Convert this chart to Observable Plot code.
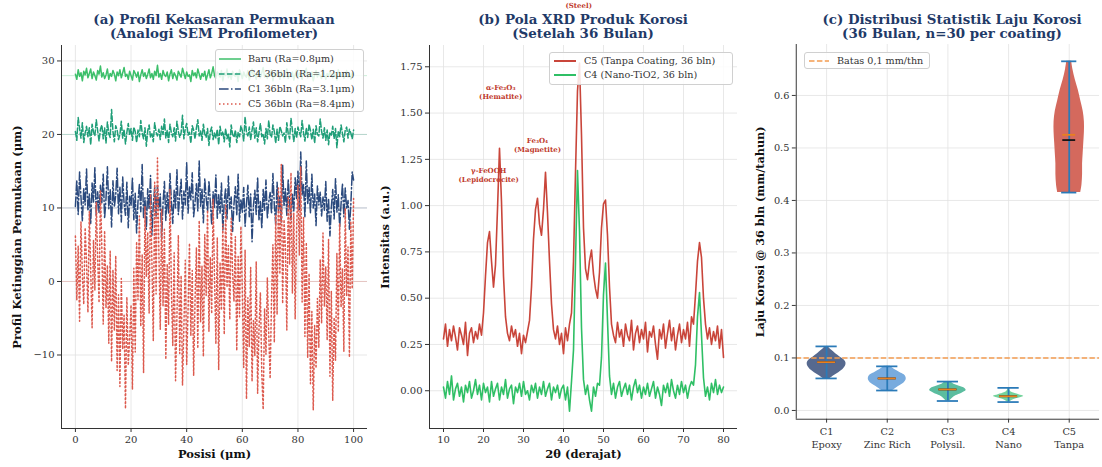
<!DOCTYPE html>
<html><head><meta charset="utf-8">
<script src="https://cdn.jsdelivr.net/npm/d3@7"></script>
<script src="https://cdn.jsdelivr.net/npm/@observablehq/plot@0.6"></script>
<style>
html,body{margin:0;padding:0;background:#fff;}
#wrap{position:relative;width:1102px;height:467px;overflow:hidden;font-family:"DejaVu Serif",serif;}
.panel{position:absolute;top:0;}
.title{position:absolute;top:12px;text-align:center;font-weight:bold;font-size:13.4px;line-height:14px;color:#1f3a68;white-space:nowrap;transform:translateX(-50%);}
.legend{position:absolute;background:rgba(255,255,255,0.85);border:1px solid #d0d0d0;border-radius:3px;font-size:9.6px;color:#333;box-sizing:border-box;}
.legend .row{position:absolute;left:0;height:14px;white-space:nowrap;}
.legend .row svg{position:absolute;top:0;}
.legend .row span{position:absolute;top:0;line-height:14px;}
</style></head>
<body><div id="wrap"></div>
<script>
// ---------- Panel (a): surface profiles (µm), sampled every 0.5 µm from 0 to 100 ----------
const profileStep = 0.5;
const profileBaru = [
28.2,27.5,28.8,27.9,28.4,27.3,28.6,28.1,29.0,27.7,28.3,28.9,27.6,28.5,28.0,27.4,28.7,28.2,29.3,27.8,
28.4,27.6,28.1,28.9,27.5,28.3,27.9,28.7,28.2,27.3,28.5,28.0,28.8,27.7,28.4,29.1,27.9,28.2,27.5,28.6,
28.0,27.4,28.7,28.3,27.8,28.5,27.2,28.1,28.8,27.9,28.4,27.6,28.2,28.9,27.7,28.3,27.5,28.6,28.0,29.4,
27.8,28.3,27.5,28.7,28.1,27.9,28.5,27.3,28.2,28.8,27.6,28.4,28.0,27.4,28.6,28.2,27.8,29.0,28.3,27.6,
28.5,27.9,28.1,27.2,28.7,28.0,28.4,27.7,28.9,28.2,27.5,28.3,27.9,28.6,27.4,28.1,28.8,27.7,28.3,29.2,
28.0,27.6,28.5,28.2,27.8,28.7,27.3,28.4,28.0,28.9,27.7,28.2,27.5,28.6,28.1,27.9,28.4,27.2,28.8,28.3,
27.6,28.5,28.0,27.8,28.7,27.4,28.2,28.9,27.9,28.3,27.5,28.6,28.1,27.7,28.4,29.1,27.8,28.2,27.6,28.5,
28.0,28.8,27.3,28.4,27.9,28.6,28.2,27.5,28.7,28.0,27.7,28.3,28.9,27.6,28.1,27.9,28.5,27.4,28.2,28.8,
27.8,28.4,28.0,27.5,28.6,28.2,29.0,27.7,28.3,27.9,28.5,27.3,28.1,28.7,27.8,28.4,28.0,27.6,28.9,28.2,
27.5,28.3,27.9,28.6,28.1,27.7,28.5,28.0,27.4,28.8,28.2,27.9,28.4,27.6,28.1,28.7,27.8,28.3,27.5,28.4,
28.1];
const profileC4 = [
20.4,19.2,22.3,20.8,19.5,21.6,18.9,20.2,21.1,19.7,20.9,18.6,21.4,20.3,19.8,22.0,20.5,19.1,20.7,21.3,
19.4,20.9,18.8,21.7,20.1,19.6,23.4,20.4,19.0,21.2,20.6,19.3,20.0,21.8,19.5,20.7,18.7,20.3,21.5,19.9,
20.8,19.2,21.0,20.4,18.9,20.6,19.7,21.9,20.2,19.4,20.9,18.4,20.5,21.3,19.6,20.1,19.0,21.6,20.3,19.8,
20.7,19.3,21.1,20.0,22.1,19.5,20.6,18.9,21.4,20.2,19.7,20.9,19.1,21.8,20.4,19.6,20.2,22.6,19.4,20.8,
21.5,19.9,20.3,18.8,21.2,20.6,19.4,20.9,22.0,19.8,20.5,19.2,21.4,20.1,19.6,20.8,18.5,20.4,21.0,19.3,
20.2,19.5,20.7,18.6,21.1,19.9,20.4,19.0,20.8,19.4,20.1,18.3,21.3,20.0,19.6,20.6,18.9,20.3,19.7,21.2,
20.5,19.1,22.4,20.2,19.8,21.0,19.3,20.6,21.7,19.5,20.9,19.0,20.3,21.5,19.7,20.1,18.7,20.8,19.4,21.9,
20.0,19.6,21.3,20.4,18.8,20.7,19.2,21.1,20.5,19.8,20.2,18.9,21.6,20.1,19.4,22.2,20.6,19.0,20.8,19.5,
21.0,20.3,19.7,21.9,20.2,19.1,20.9,19.6,21.4,20.5,19.3,20.7,18.8,21.2,20.0,19.8,22.1,20.4,19.5,20.9,
19.2,20.6,18.6,20.3,19.9,21.1,19.4,20.8,18.2,20.5,19.7,21.3,20.1,19.0,20.6,21.0,19.5,20.7,20.2,19.4,
20.6];
const profileC1 = [
10.2,13.8,9.1,14.9,11.5,8.2,12.7,10.4,15.3,9.6,11.9,7.8,13.4,10.8,15.5,8.9,12.2,9.4,13.1,10.7,
14.6,8.6,11.3,15.6,9.9,12.5,7.4,13.7,10.1,11.8,15.4,9.2,12.9,8.1,14.2,10.6,9.0,13.5,7.3,11.6,
10.3,14.1,8.4,12.0,6.6,10.9,13.2,9.5,15.9,8.7,11.4,7.1,12.6,9.8,14.4,6.3,10.5,12.8,8.9,13.0,
9.7,11.9,5.9,10.6,13.6,8.3,12.1,9.2,14.7,10.9,7.9,12.4,10.0,15.2,9.1,11.7,13.9,8.5,12.3,10.4,
16.2,9.3,12.9,11.1,14.8,8.8,10.7,13.3,9.6,16.4,10.2,12.6,8.0,14.0,11.4,9.5,13.7,10.8,7.7,12.2,
10.1,14.5,8.6,11.8,9.3,13.4,7.0,10.9,12.7,8.4,14.3,9.9,11.5,6.8,10.5,12.9,9.0,14.6,8.2,11.2,
9.4,12.8,7.5,10.6,13.1,8.8,11.9,5.4,10.3,12.4,9.1,14.2,8.3,11.0,7.2,12.5,9.7,13.8,8.6,10.8,
12.1,9.2,14.7,10.4,7.8,13.5,9.5,11.6,8.1,15.8,10.2,12.6,9.0,13.9,10.7,8.4,12.0,9.6,14.1,11.3,
15.0,9.8,17.6,11.7,13.2,8.7,16.4,10.5,12.8,9.3,14.6,10.0,11.9,7.6,13.0,10.4,12.2,8.9,11.5,9.7,
13.6,8.2,11.3,6.2,10.1,12.5,8.5,14.0,9.4,11.8,7.3,10.6,13.3,8.8,12.7,9.9,11.0,7.1,10.4,14.9,
13.8];
const profileC5 = [
6.2,-2.5,4.8,-5.4,8.1,0.9,-3.1,7.3,2.6,-4.2,9.5,1.4,-6.3,5.6,-1.2,10.8,3.1,-2.9,12.4,4.5,
-5.8,6.9,-3.6,2.2,-8.4,4.1,-10.9,1.6,-6.7,3.5,-12.1,-1.8,-14.3,0.4,-9.2,-4.6,-17.3,-2.1,-11.4,-7.8,
-3.2,-14.7,1.8,-9.6,5.4,-2.5,8.9,-6.1,3.7,-12.4,10.2,0.6,6.7,-4.3,11.9,2.8,-8.1,13.5,-1.7,16.8,
4.2,-6.5,9.8,-3.3,7.1,-10.6,2.4,-5.9,12.6,-1.1,-8.7,3.9,-13.5,-4.7,6.3,-9.8,0.8,-14.1,-6.2,2.9,
-11.3,-3.8,5.2,-7.4,1.5,-12.8,-2.6,4.6,-9.1,8.3,-5.5,2.1,-10.2,6.4,-1.9,9.7,-6.8,3.3,-4.4,11.2,
0.7,-8.5,5.9,-12.0,2.6,-3.9,7.8,-7.2,10.4,-0.8,4.9,-5.2,8.6,1.3,-2.7,6.1,-9.4,3.4,-4.8,7.5,
-1.4,-11.7,4.3,-16.0,-2.2,-8.9,1.9,-13.6,-5.3,-10.1,2.7,-15.2,-6.4,-1.5,-12.5,-17.4,-3.7,-9.9,0.5,-7.1,
-13.2,-2.4,5.0,-8.3,9.1,-4.5,12.7,1.0,15.9,-3.0,8.4,4.4,-6.6,11.6,2.3,14.8,-1.6,9.3,-5.1,7.0,
13.1,3.6,15.6,-2.8,8.7,-7.5,5.3,-10.4,1.1,-13.9,-4.1,-17.5,-6.0,-11.8,-2.3,-9.0,3.0,-5.7,6.6,-3.4,
2.0,-8.0,5.7,-12.9,-1.3,-16.2,-4.9,-10.7,3.8,-6.9,7.9,-3.5,1.7,-9.5,10.0,-2.0,4.7,-10.3,8.2,-1.0,
11.3];
const profileBaselines = [28, 20, 10, 0];
const profileLabels = ["Baru (Ra=0.8μm)", "C4 36bln (Ra=1.2μm)", "C1 36bln (Ra=3.1μm)", "C5 36bln (Ra=8.4μm)"];

// ---------- Panel (b): XRD, 2θ from 10 to 80 every 0.5° ----------
const xrdStart = 10, xrdStep = 0.5;
const xrdC5 = [
0.28,0.36,0.24,0.33,0.27,0.35,0.29,0.22,0.34,0.30,
0.25,0.37,0.19,0.31,0.34,0.26,0.32,0.28,0.36,0.30,
0.42,0.62,0.80,0.86,0.70,0.56,0.68,0.98,1.31,1.02,
0.62,0.40,0.31,0.27,0.35,0.29,0.33,0.24,0.31,0.20,
0.30,0.26,0.32,0.38,0.56,0.82,0.98,1.04,0.90,0.84,
0.98,1.18,0.96,0.70,0.47,0.33,0.28,0.35,0.25,0.31,
0.20,0.34,0.27,0.36,0.42,0.70,1.18,1.62,1.77,1.38,
0.88,0.66,0.60,0.70,0.76,0.63,0.55,0.50,0.64,0.88,
1.01,1.03,0.84,0.56,0.36,0.30,0.26,0.37,0.29,0.33,
0.24,0.36,0.30,0.27,0.38,0.22,0.31,0.35,0.26,0.33,
0.28,0.37,0.21,0.32,0.29,0.35,0.25,0.17,0.33,0.28,
0.36,0.23,0.31,0.38,0.27,0.34,0.22,0.30,0.36,0.26,
0.33,0.28,0.37,0.24,0.40,0.36,0.52,0.70,0.80,0.72,
0.50,0.36,0.28,0.34,0.25,0.32,0.27,0.35,0.23,0.33,
0.18];
const xrdC4 = [
0.02,-0.04,0.05,-0.02,0.08,-0.05,0.01,0.04,-0.03,0.02,
-0.06,0.03,-0.01,0.05,-0.04,0.00,0.06,-0.02,0.03,-0.05,
0.04,-0.01,0.02,-0.06,0.05,-0.03,0.01,0.04,-0.05,0.02,
-0.02,0.06,-0.04,0.01,0.03,-0.07,0.02,-0.01,0.04,-0.03,
0.05,-0.02,0.00,-0.05,0.03,-0.01,0.04,-0.04,0.02,-0.02,
0.05,-0.03,0.01,0.04,-0.05,0.02,-0.01,0.03,-0.04,0.01,
0.03,-0.05,0.02,-0.11,0.05,0.22,0.70,1.19,0.86,0.34,
0.06,-0.02,0.03,-0.05,-0.11,0.02,-0.03,0.04,0.03,0.18,
0.52,0.69,0.38,0.08,-0.02,0.04,-0.04,0.02,0.05,-0.03,
0.01,0.04,-0.02,0.03,-0.05,0.02,0.06,-0.01,0.03,-0.04,
0.02,-0.02,0.04,-0.03,0.01,0.05,-0.04,0.02,-0.02,-0.08,
0.03,-0.01,0.04,-0.03,0.06,0.00,-0.04,0.03,-0.02,0.05,
-0.01,0.03,-0.04,0.02,0.05,0.03,0.14,0.40,0.53,0.30,
0.07,-0.03,0.02,-0.05,0.04,-0.01,0.06,-0.02,0.03,-0.01,
0.02];
const xrdLabels = ["C5 (Tanpa Coating, 36 bln)", "C4 (Nano-TiO2, 36 bln)"];
const phaseNames = ["γ-FeOOH\n(Lepidocrocite)", "α-Fe₂O₃\n(Hematite)", "Fe₃O₄\n(Magnetite)", "α-Fe\n(Steel)"];
const phaseAngle = [21.3, 24.3, 33.5, 43.8];
const phaseLabelY = [1.17, 1.615, 1.33, 2.11];

// ---------- Panel (c): violin distributions of corrosion rate ----------
const coatingNames = ["C1\nEpoxy", "C2\nZinc Rich", "C3\nPolysil.", "C4\nNano", "C5\nTanpa"];
const rateMin = [0.061, 0.038, 0.018, 0.016, 0.415];
const rateMax = [0.122, 0.084, 0.055, 0.043, 0.665];
const rateMean = [0.092, 0.061, 0.040, 0.027, 0.525];
const rateMedian = [0.092, 0.061, 0.040, 0.027, 0.515];
const c1Levels = [0.061,0.066,0.072,0.078,0.084,0.090,0.096,0.102,0.108,0.114,0.118,0.122];
const c1Density = [0.06,0.12,0.20,0.27,0.31,0.32,0.29,0.22,0.15,0.09,0.05,0.03];
const c2Levels = [0.038,0.043,0.048,0.053,0.058,0.063,0.068,0.073,0.078,0.084];
const c2Density = [0.09,0.15,0.22,0.28,0.31,0.31,0.28,0.20,0.12,0.05];
const c3Levels = [0.018,0.023,0.028,0.033,0.038,0.042,0.046,0.050,0.055];
const c3Density = [0.03,0.07,0.13,0.23,0.30,0.28,0.19,0.10,0.04];
const c4Levels = [0.016,0.020,0.024,0.027,0.030,0.034,0.038,0.043];
const c4Density = [0.02,0.07,0.19,0.25,0.17,0.06,0.02,0.01];
const c5Levels = [0.415,0.43,0.45,0.47,0.49,0.51,0.53,0.55,0.57,0.59,0.61,0.63,0.65,0.665];
const c5Density = [0.19,0.21,0.22,0.22,0.23,0.24,0.25,0.25,0.23,0.19,0.15,0.10,0.06,0.04];
const thresholdRate = 0.1;
const thresholdLabel = "Batas 0,1 mm/thn";

// ---------- build ----------
const wrap = document.getElementById("wrap");
const baseStyle = {fontFamily: "DejaVu Serif", fontSize: "10px", color: "#333", background: "transparent"};
const gridStyle = {stroke: "#e2e2e2", strokeOpacity: 1, strokeWidth: 0.8};

function addPanel(left, node) {
  const d = document.createElement("div");
  d.className = "panel"; d.style.left = left + "px";
  d.appendChild(node); wrap.appendChild(d);
}
function addTitle(cx, text) {
  const t = document.createElement("div");
  t.className = "title"; t.style.left = cx + "px"; t.innerHTML = text;
  wrap.appendChild(t);
}
function addLegend(box, items) {
  const L = document.createElement("div");
  L.className = "legend";
  Object.assign(L.style, {left: box.left + "px", top: box.top + "px", width: box.w + "px", height: box.h + "px"});
  items.forEach((it, i) => {
    const r = document.createElement("div");
    r.className = "row"; r.style.top = (box.row0 + i * box.dy - 7) + "px"; r.style.width = box.w + "px";
    r.innerHTML = `<svg width="${box.sx2 + 2}" height="14" style="left:0"><line x1="${box.sx1}" x2="${box.sx2}" y1="7" y2="7" stroke="${it.color}" stroke-width="${it.sw || 1.5}" ${it.dash ? `stroke-dasharray="${it.dash}"` : ""}/></svg><span style="left:${box.tx}px">${it.label}</span>`;
    L.appendChild(r);
  });
  wrap.appendChild(L);
}
const yLabel = (text, dx) => Plot.text([text], {frameAnchor: "left", textAnchor: "middle", dx, rotate: -90, fontWeight: "bold", fontSize: 11.5, fill: "#111"});
const xLabel = (text, dy) => Plot.text([text], {frameAnchor: "bottom", textAnchor: "middle", dy, fontWeight: "bold", fontSize: 11.5, fill: "#111"});

// Panel (a)
const colA = ["#3cbf6a", "#1f9e78", "#2b4a7e", "#dc5a4e"];
const dashA = [null, "5.5,2.4", "9.6,2.4,1.5,2.4", "1.5,2.5"];
const profileTable = profileBaru.map((v, i) => ({x: i * profileStep, baru: v, c4: profileC4[i], c1: profileC1[i], c5: profileC5[i]}));
const keysA = ["baru", "c4", "c1", "c5"];
const plotA = Plot.plot({
  width: 370, height: 467, marginLeft: 61, marginRight: 3, marginTop: 45, marginBottom: 39,
  style: baseStyle,
  x: {domain: [-5, 105]}, y: {domain: [-20, 32.1]},
  marks: [
    Plot.gridX({ticks: [0, 20, 40, 60, 80, 100], ...gridStyle}),
    Plot.gridY({ticks: [-10, 0, 10, 20, 30], ...gridStyle}),
    ...profileBaselines.map((b, k) => Plot.ruleY([b], {stroke: colA[k], strokeOpacity: 0.25, strokeWidth: 1})),
    ...keysA.map((k, i) => Plot.line(profileTable, {x: "x", y: k, stroke: colA[i], strokeWidth: 1.5, strokeDasharray: dashA[i] || undefined})),
    Plot.ruleX([-5], {stroke: "#333", strokeWidth: 1}),
    Plot.ruleY([-20], {stroke: "#333", strokeWidth: 1}),
    Plot.axisX({ticks: [0, 20, 40, 60, 80, 100], tickSize: 4, tickPadding: 3, label: null}),
    Plot.axisY({ticks: [-10, 0, 10, 20, 30], tickSize: 4, tickPadding: 3, label: null}),
    xLabel("Posisi (μm)", 29),
    yLabel("Profil Ketinggian Permukaan (μm)", -44)
  ]
});
addPanel(0, plotA);
addTitle(214, "(a) Profil Kekasaran Permukaan<br>(Analogi SEM Profilometer)");
addLegend({left: 215, top: 49, w: 149, h: 63, row0: 9, dy: 15, sx1: 3, sx2: 25, tx: 32},
  profileLabels.map((l, i) => ({label: l, color: colA[i], dash: dashA[i]})));

// Panel (b)
const colB = ["#c9453a", "#2fbf65"];
const xrdTable = xrdC5.map((v, i) => ({t: xrdStart + i * xrdStep, c5: v, c4: xrdC4[i]}));
const phaseTable = phaseNames.map((n, i) => ({x: phaseAngle[i], y: phaseLabelY[i], n}));
const plotB = Plot.plot({
  width: 370, height: 467, marginLeft: 59, marginRight: 3, marginTop: 45, marginBottom: 39,
  style: baseStyle,
  x: {domain: [6.5, 83.5]}, y: {domain: [-0.204, 1.865]},
  marks: [
    Plot.gridX({ticks: [10, 20, 30, 40, 50, 60, 70, 80], ...gridStyle}),
    Plot.gridY({ticks: [0, 0.25, 0.5, 0.75, 1, 1.25, 1.5, 1.75], ...gridStyle}),
    Plot.line(xrdTable, {x: "t", y: "c5", stroke: colB[0], strokeWidth: 1.6}),
    Plot.line(xrdTable, {x: "t", y: "c4", stroke: colB[1], strokeWidth: 1.6}),
    Plot.text(phaseTable, {x: "x", y: "y", text: "n", fill: "#c0392b", fontWeight: "bold", fontSize: 7, lineHeight: 1.3}),
    Plot.ruleX([6.5], {stroke: "#333", strokeWidth: 1}),
    Plot.ruleY([-0.204], {stroke: "#333", strokeWidth: 1}),
    Plot.axisX({ticks: [10, 20, 30, 40, 50, 60, 70, 80], tickSize: 4, tickPadding: 3, label: null}),
    Plot.axisY({ticks: [0, 0.25, 0.5, 0.75, 1, 1.25, 1.5, 1.75], tickFormat: d3.format(".2f"), tickSize: 4, tickPadding: 3, label: null}),
    xLabel("2θ (derajat)", 29),
    yLabel("Intensitas (a.u.)", -44)
  ]
});
addPanel(370, plotB);
addTitle(583, "(b) Pola XRD Produk Korosi<br>(Setelah 36 Bulan)");
addLegend({left: 549, top: 52, w: 184, h: 33, row0: 8, dy: 14, sx1: 4, sx2: 26, tx: 34},
  xrdLabels.map((l, i) => ({label: l, color: colB[i], sw: 2})));

// Panel (c)
const colC = ["#56698f", "#78abde", "#5bbd9f", "#74d39c", "#d4695d"];
const levelsAll = [c1Levels, c2Levels, c3Levels, c4Levels, c5Levels];
const densAll = [c1Density, c2Density, c3Density, c4Density, c5Density];
const capHalf = [0.175, 0.175, 0.175, 0.175, 0.125];
const statTable = coatingNames.map((n, i) => ({pos: i + 1, name: n, min: rateMin[i], max: rateMax[i], mean: rateMean[i], med: rateMedian[i], cap: capHalf[i]}));
const violinMarks = levelsAll.map((lv, k) => Plot.areaX(lv.map((y, j) => ({pos: k + 1, y, w: densAll[k][j]})),
  {y: "y", x1: d => d.pos - d.w, x2: d => d.pos + d.w, fill: colC[k], curve: "catmull-rom"}));
const plotC = Plot.plot({
  width: 370, height: 467, marginLeft: 57, marginRight: 3, marginTop: 45, marginBottom: 39,
  style: baseStyle,
  x: {domain: [0.5, 5.5]}, y: {domain: [-0.0167, 0.697]},
  marks: [
    Plot.gridX({ticks: [1, 2, 3, 4, 5], ...gridStyle}),
    Plot.gridY({ticks: [0, 0.1, 0.2, 0.3, 0.4, 0.5, 0.6], ...gridStyle}),
    ...violinMarks,
    Plot.ruleX(statTable, {x: "pos", y1: "min", y2: "max", stroke: "#2a7ab8", strokeWidth: 1.8}),
    Plot.ruleY(statTable, {y: "min", x1: d => d.pos - d.cap, x2: d => d.pos + d.cap, stroke: "#2a7ab8", strokeWidth: 1.8}),
    Plot.ruleY(statTable, {y: "max", x1: d => d.pos - d.cap, x2: d => d.pos + d.cap, stroke: "#2a7ab8", strokeWidth: 1.8}),
    Plot.ruleY(statTable, {y: "med", x1: d => d.pos - d.cap * 0.85, x2: d => d.pos + d.cap * 0.85, stroke: "#111", strokeWidth: 1.8}),
    Plot.ruleY(statTable, {y: "mean", x1: d => d.pos - d.cap * 0.85, x2: d => d.pos + d.cap * 0.85, stroke: "#e8801f", strokeWidth: 1.8}),
    Plot.ruleY([thresholdRate], {stroke: "#f39c50", strokeWidth: 1.5, strokeDasharray: "5.5,2.4"}),
    Plot.ruleX([0.5], {stroke: "#333", strokeWidth: 1}),
    Plot.ruleY([-0.0167], {stroke: "#333", strokeWidth: 1}),
    Plot.axisX({ticks: [1, 2, 3, 4, 5], tickFormat: () => "", tickSize: 4, label: null}),
    Plot.text(statTable, {x: "pos", text: "name", frameAnchor: "bottom", lineAnchor: "top", dy: 7, lineHeight: 1.3, fontSize: 10, fill: "#333"}),
    Plot.axisY({ticks: [0, 0.1, 0.2, 0.3, 0.4, 0.5, 0.6], tickFormat: d3.format(".1f"), tickSize: 4, tickPadding: 3, label: null}),
    yLabel("Laju Korosi @ 36 bln (mm/tahun)", -37)
  ]
});
addPanel(740, plotC);
addTitle(952, "(c) Distribusi Statistik Laju Korosi<br>(36 Bulan, n=30 per coating)");
addLegend({left: 804, top: 52, w: 126, h: 17, row0: 8, dy: 14, sx1: 4, sx2: 24, tx: 32},
  [{label: thresholdLabel, color: "#f39c50", dash: "5.5,2.4"}]);
</script>
</body></html>
